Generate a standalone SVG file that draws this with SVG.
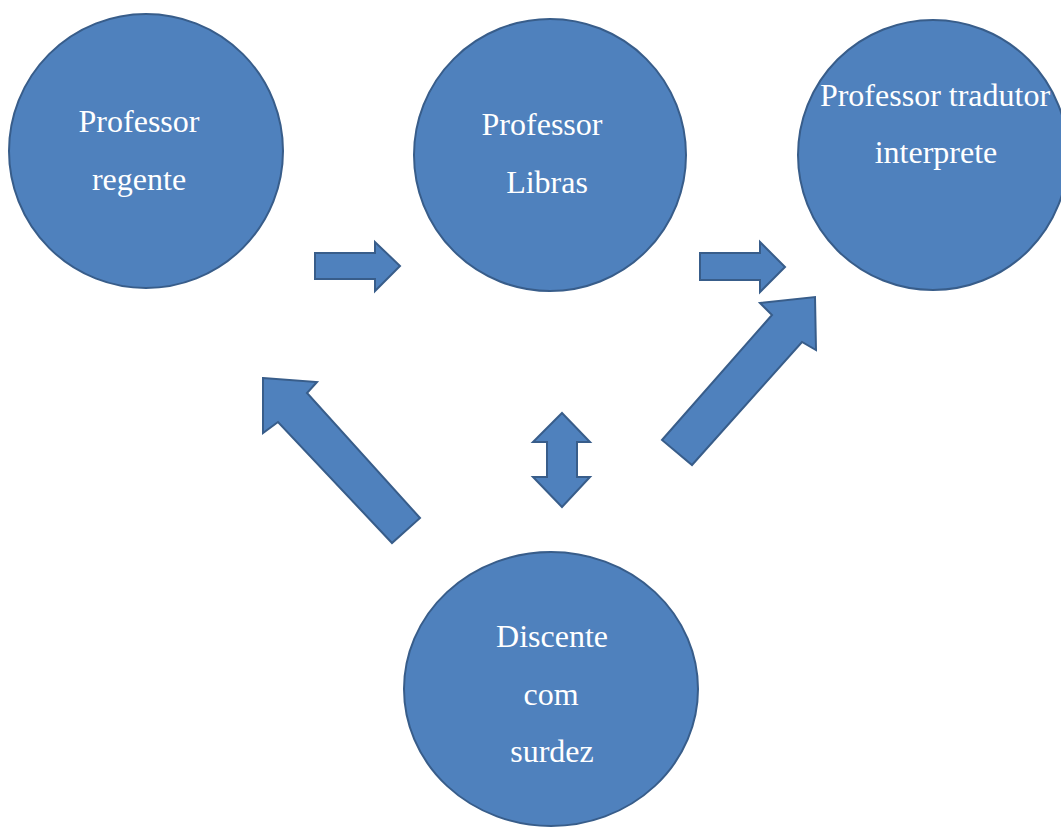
<svg xmlns="http://www.w3.org/2000/svg" width="1061" height="828" viewBox="0 0 1061 828">
<style>
.node{fill:#4F81BD;stroke:#385D8A;stroke-width:2}
.arr{fill:#4F81BD;stroke:#385D8A;stroke-width:2;stroke-linejoin:miter}
.lbl{font-family:"Liberation Serif","Times New Roman",serif;font-size:32px;fill:#FFFFFF;text-anchor:middle}
</style>
<rect width="1061" height="828" fill="#FFFFFF"/>
<g id="connectors">
<polygon class="arr" points="315,253 375,253 375,242 400,266 375,291 375,279 315,279"/>
<polygon class="arr" points="700,253 760,253 760,242 785,267 760,292 760,280 700,280"/>
<polygon class="arr" points="662,440 772,315 760,303 815,297 816,350 802,342 692,465"/>
<polygon class="arr" points="263,378 317,382 307,393 420,518 392,543 278,422 263,433"/>
<polygon class="arr" points="562,413 590,442 577,442 577,477 590,477 562,507 533,477 547,477 547,442 533,442"/>
</g>
<g id="node-regente">
<circle class="node" cx="146" cy="151" r="137"/>
<text class="lbl" x="139" y="132">Professor</text>
<text class="lbl" x="139" y="190">regente</text>
</g>
<g id="node-libras">
<circle class="node" cx="550" cy="155" r="136"/>
<text class="lbl" x="542" y="135">Professor</text>
<text class="lbl" x="547" y="193">Libras</text>
</g>
<g id="node-tradutor">
<circle class="node" cx="933" cy="155" r="135"/>
<text class="lbl" x="935" y="106">Professor tradutor</text>
<text class="lbl" x="936" y="163">interprete</text>
</g>
<g id="node-discente">
<ellipse class="node" cx="551" cy="689" rx="147" ry="137"/>
<text class="lbl" x="552" y="647">Discente</text>
<text class="lbl" x="551" y="705">com</text>
<text class="lbl" x="552" y="762">surdez</text>
</g>
</svg>
